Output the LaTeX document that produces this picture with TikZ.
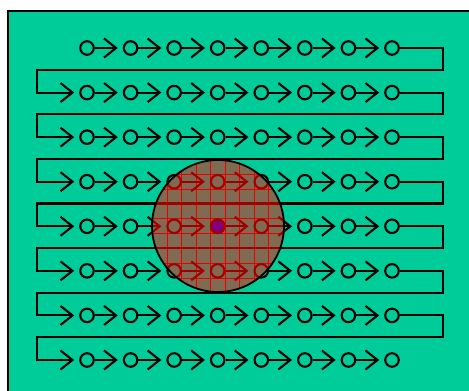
\documentclass[tikz,border=0pt]{standalone}
\usetikzlibrary{arrows.meta,calc}
\definecolor{bg}{RGB}{0,204,153}
\definecolor{spot}{RGB}{128,107,82}
\definecolor{dred}{RGB}{160,0,0}
\definecolor{gridred}{RGB}{235,0,0}
\definecolor{dotpurple}{RGB}{128,0,128}
\tikzset{
  cell/.style={circle, draw, line width=2.1pt, minimum size=13.5pt, inner sep=0pt},
  flow/.style={line width=2.1pt, line join=miter, -{Straight Barb[length=12pt,width=19pt]}, shorten >=5pt},
  gridline/.style={gridred, line width=0.7pt},
}
\newcommand{\drawflow}[1]{%
  \foreach \r in {1,...,8}{
    \foreach \k in {1,...,8}{
      \node[cell,draw=#1] (c-\r-\k) at ({87+(\k-1)*43.57},{48+(\r-1)*44.57}) {};
    }
    \foreach \k [evaluate=\k as \n using int(\k+1)] in {1,...,7}{
      \draw[flow,draw=#1] (c-\r-\k) -- (c-\r-\n);
    }
  }
  \foreach \r [evaluate=\r as \n using int(\r+1)] in {1,...,7}{
    \coordinate (ra-\r) at (443,{48+(\r-1)*44.57+21.8});
    \coordinate (la-\r) at (37,{48+(\r-1)*44.57+21.8});
    \draw[flow,draw=#1] (c-\r-8) -| (ra-\r) -- (la-\r) |- (c-\n-1);
  }
}
\begin{document}
\begin{tikzpicture}[x=1pt,y=-1pt]
\useasboundingbox (0,0) rectangle (469,391);
\clip (0,0) rectangle (469,391);
\fill[white] (0,0) rectangle (469,391);
\filldraw[fill=bg, draw=black, line width=1.8pt] (8,11) rectangle (490,410);
\drawflow{black}
\node[circle, fill=spot, minimum size=132pt, inner sep=0pt] (disk) at (218,226) {};
\begin{scope}
  \clip (disk.center) circle[radius=66pt];
  \foreach \j in {-6,...,6}{
    \draw[gridline] ({218-7.26+\j*14.52},150) -- ({218-7.26+\j*14.52},300);
    \draw[gridline] (140,{226-7.43+\j*14.86}) -- (300,{226-7.43+\j*14.86});
  }
  \drawflow{dred}
  \node[cell, draw=dred, fill=dotpurple] (center) at (c-5-4) {};
\end{scope}
\draw[line width=1.8pt] (disk.center) circle[radius=66pt];
\end{tikzpicture}
\end{document}
